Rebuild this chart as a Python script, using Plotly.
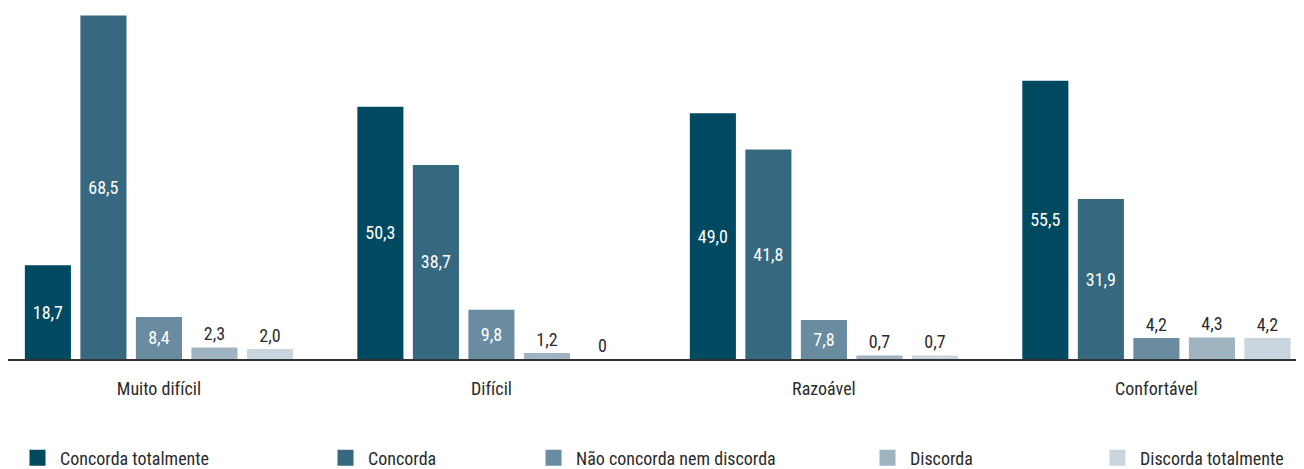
import plotly.graph_objects as go

categories = ["Muito difícil", "Difícil", "Razoável", "Confortável"]
series_names = ["Concorda totalmente", "Concorda", "Não concorda nem discorda", "Discorda", "Discorda totalmente"]
concorda_totalmente = [18.7, 50.3, 49.0, 55.5]
concorda = [68.5, 38.7, 41.8, 31.9]
nem = [8.4, 9.8, 7.8, 4.2]
discorda = [2.3, 1.2, 0.7, 4.3]
discorda_totalmente = [2.0, 0.0, 0.7, 4.2]
series_values = [concorda_totalmente, concorda, nem, discorda, discorda_totalmente]
colors = ["#004a61", "#36687f", "#6a8ca1", "#9fb3c1", "#c9d5df"]

FONT = "Roboto Condensed, Liberation Sans Narrow, DejaVu Sans Condensed, Arial Narrow, sans-serif"
TEXT_DARK = "#2b2b2b"

def fmt(v):
    return "0" if v == 0 else f"{v:.1f}".replace(".", ",")

fig = go.Figure()
legend_marker_centers = [35.5, 343.5, 551.5, 885.5, 1115.5]
for i, (name, vals, col) in enumerate(zip(series_names, series_values, colors)):
    pos = ["inside" if v >= 7 else "outside" for v in vals]
    fig.add_trace(go.Bar(
        x=categories, y=vals, name=name, marker=dict(color=col, line=dict(width=0)),
        text=[fmt(v) for v in vals], textposition=pos, insidetextanchor="middle",
        textangle=0, constraintext="none", cliponaxis=False,
        insidetextfont=dict(color="white", size=18, family=FONT),
        outsidetextfont=dict(color=TEXT_DARK, size=18, family=FONT),
        showlegend=False, hoverinfo="skip",
    ))
    lg = "legend" if i == 0 else f"legend{i+1}"
    fig.add_trace(go.Scatter(
        x=[None], y=[None], mode="markers", name=name,
        marker=dict(symbol="square", size=16, color=col),
        legend=lg, showlegend=True,
    ))

# page body has an 8px margin: figure coordinates are screen coordinates minus 8
fig.update_layout(
    width=1304, height=469,
    margin=dict(l=0, r=0, t=0, b=118),
    paper_bgcolor="white", plot_bgcolor="white",
    barmode="group", bargap=0.165, bargroupgap=0.17,
    font=dict(family=FONT, size=18, color=TEXT_DARK),
    xaxis=dict(range=[-0.454, 3.468], showgrid=False, showline=True, linecolor="#333333",
               linewidth=1.5, ticks="", ticklabelstandoff=13,
               tickfont=dict(size=18, color=TEXT_DARK)),
    yaxis=dict(range=[0, 70], visible=False, showgrid=False, zeroline=False),
)
for i, cx in enumerate(legend_marker_centers):
    key = "legend" if i == 0 else f"legend{i+1}"
    fig.update_layout(**{key: dict(
        x=(cx - 28.5) / 1304, xref="container", xanchor="left",
        y=1 - 450 / 469, yref="container", yanchor="middle",
        orientation="h", bgcolor="rgba(0,0,0,0)", borderwidth=0,
        font=dict(family=FONT, size=18, color=TEXT_DARK), itemwidth=35,
    )})

fig.write_html("out.html")
